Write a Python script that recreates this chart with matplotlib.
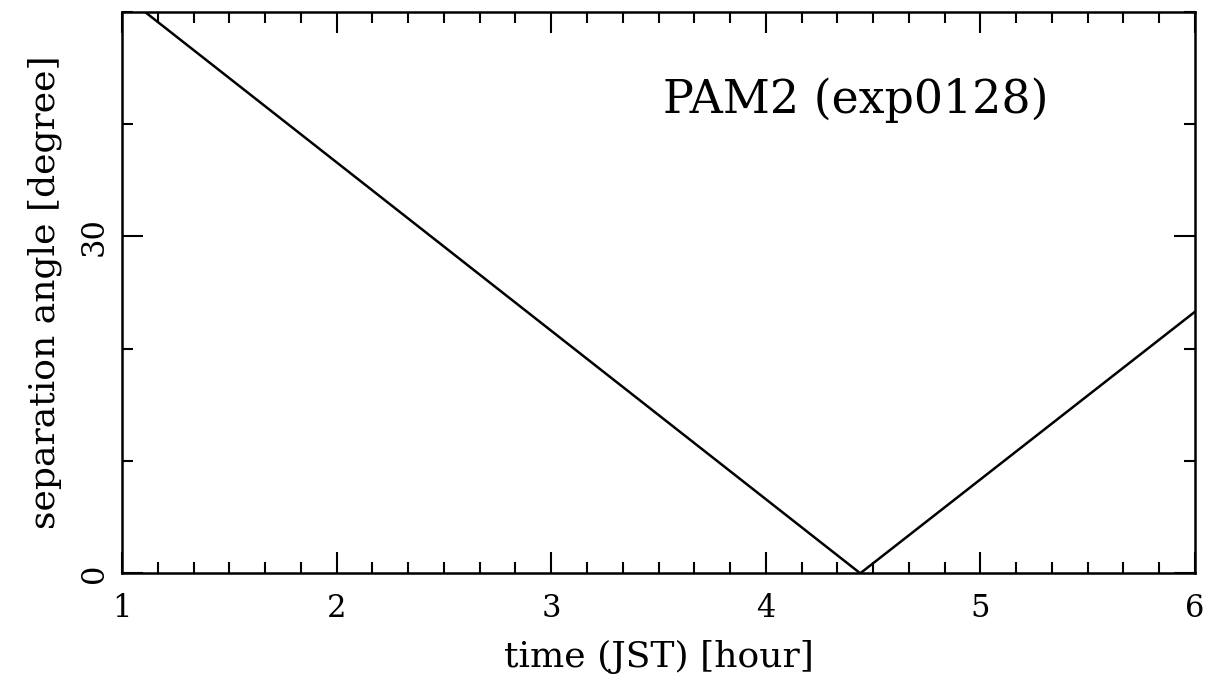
import matplotlib
matplotlib.use("Agg")
import matplotlib.pyplot as plt
from matplotlib.ticker import MultipleLocator

# separation angle vs time
time_hour = [1.0, 4.44, 6.0]
sep_angle = [51.6, 0.0, 23.3]

x_ticks = [1, 2, 3, 4, 5, 6]
y_ticks = [0, 30]
label_text = "PAM2 (exp0128)"

plt.rcParams["font.family"] = ["DejaVu Serif"]

fig = plt.figure(figsize=(12.12, 7.0), dpi=100)
ax = fig.add_axes([0.1007, 0.181, 0.8853, 0.802])

ax.plot(time_hour, sep_angle, color="black", linewidth=1.8)

ax.set_xlim(1, 6)
ax.set_ylim(0, 50)
ax.set_xticks(x_ticks)
ax.set_yticks(y_ticks)
ax.xaxis.set_minor_locator(MultipleLocator(1 / 6))
ax.yaxis.set_minor_locator(MultipleLocator(10))

ax.tick_params(which="both", direction="in", top=True, right=True, width=1.5)
ax.tick_params(which="major", length=15, labelsize=22)
ax.tick_params(axis="x", which="major", pad=14)
ax.tick_params(axis="y", which="major", pad=9)
ax.tick_params(which="minor", length=8)
for lab in ax.get_yticklabels():
    lab.set_rotation(90)
    lab.set_va("center")

for sp in ax.spines.values():
    sp.set_linewidth(1.8)

ax.set_xlabel("time (JST) [hour]", fontsize=26, labelpad=12)
ax.set_ylabel("separation angle [degree]", fontsize=26, labelpad=12)

ax.text(0.684, 0.843, label_text, transform=ax.transAxes, fontsize=33,
        ha="center", va="center")

fig.savefig("out.png", dpi=100)
